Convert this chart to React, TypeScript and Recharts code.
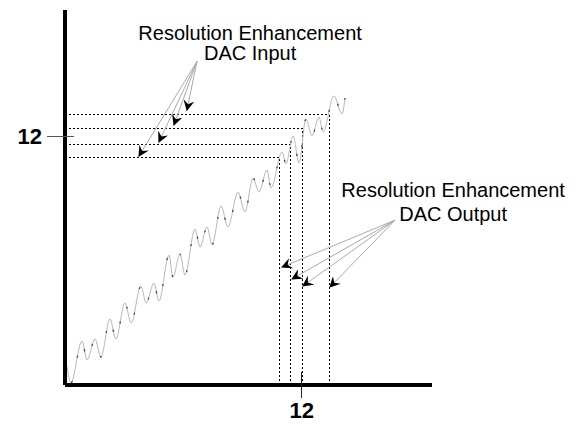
import React from "react";
import { LineChart, Line, XAxis, YAxis, ReferenceLine, ReferenceDot } from "recharts";

// wave turning points (code units: x = input code, y = output level)
const waveX = [0.1, 0.3, 0.86, 1.12, 1.52, 1.82, 2.28, 2.58, 3.04, 3.35, 3.85, 4.11, 4.51, 4.76, 5.27, 5.47, 5.83, 6.08, 6.59, 6.84, 7.2, 7.45, 7.91, 8.26, 8.77, 9.12, 9.53, 9.83, 10.24, 10.44, 11.0, 11.2, 11.56, 11.86, 12.21, 12.52, 12.87, 13.08, 13.63, 14.04, 14.19];
const waveY = [0.92, 0.1, 2.12, 1.21, 2.22, 1.35, 3.19, 2.22, 3.96, 2.99, 4.78, 3.96, 4.92, 4.05, 6.27, 5.21, 6.32, 5.31, 7.53, 6.66, 7.63, 6.76, 8.64, 7.63, 9.31, 8.35, 9.99, 9.31, 10.38, 9.51, 11.25, 10.67, 12.02, 10.71, 12.84, 12.02, 12.93, 12.21, 13.95, 13.08, 13.85];

// enhancement steps: input level (y) and output code (x)
const inputLevels = [10.96, 11.63, 12.36, 13.08];
const outputCodes = [10.85, 11.45, 12.06, 13.38];

// leader arrows
const inputOrigin = { x: 6.69, y: 15.62 };
const inputTips = [
  { x: 6.18, y: 13.27 },
  { x: 5.52, y: 12.55 },
  { x: 4.76, y: 11.73 },
  { x: 3.75, y: 11.05 },
];
const outputOrigin = { x: 16.73, y: 7.96 };
const outputTips = [
  { x: 11.0, y: 5.69 },
  { x: 11.51, y: 5.12 },
  { x: 12.06, y: 4.78 },
  { x: 13.43, y: 4.73 },
];

const captionText = ["Resolution Enhancement", "DAC Input", "Resolution Enhancement", "DAC Output"];
const captionAt = [
  { x: 9.38, y: 16.65 },
  { x: 9.38, y: 15.69 },
  { x: 19.67, y: 9.07 },
  { x: 19.67, y: 7.92 },
];

const xTicks = [12];
const yTicks = [12];

const wave = waveX.map((x, i) => ({ x, y: waveY[i] }));
const FONT = '"Liberation Sans", Arial, Helvetica, sans-serif';

function YTick(props: any) {
  const { x, y, payload } = props;
  return (
    <g>
      <line x1={x - 18} x2={x + 9} y1={y} y2={y} stroke="#555" strokeWidth={1} shapeRendering="crispEdges" />
      <text x={x - 23} y={y} dy="0.36em" textAnchor="end" fontSize={22} fontWeight="bold" fontFamily={FONT} fill="#000">
        {payload.value}
      </text>
    </g>
  );
}

function XTick(props: any) {
  const { x, y, payload } = props;
  return (
    <g>
      <line x1={x} x2={x} y1={y - 13} y2={y + 13} stroke="#222" strokeWidth={1} shapeRendering="crispEdges" />
      <text x={x} y={y + 33} textAnchor="middle" fontSize={22} fontWeight="bold" fontFamily={FONT} fill="#000">
        {payload.value}
      </text>
    </g>
  );
}

export default function App() {
  return (
    <div style={{ position: "absolute", left: 0, top: 0, background: "#fff" }}>
      <LineChart width={582} height={424} margin={{ top: 10, right: 150, left: 0, bottom: 0 }}>
        <defs>
          <marker id="barb" viewBox="0 0 10 10" refX="9" refY="5" markerWidth="11" markerHeight="11" markerUnits="userSpaceOnUse" orient="auto">
            <path d="M0,0 L10,5 L0,10 L3.5,5 z" fill="#000" />
          </marker>
        </defs>
        <XAxis
          type="number"
          dataKey="x"
          domain={[0, 18.6]}
          allowDataOverflow
          ticks={xTicks}
          interval={0}
          height={39}
          tickSize={0}
          tickMargin={0}
          tickLine={false}
          axisLine={{ stroke: "#000", strokeWidth: 4 }}
          tick={<XTick />}
        />
        <YAxis
          type="number"
          domain={[0, 18.1]}
          allowDataOverflow
          ticks={yTicks}
          interval={0}
          width={65}
          tickSize={0}
          tickMargin={0}
          tickLine={false}
          axisLine={{ stroke: "#000", strokeWidth: 4 }}
          tick={<YTick />}
        />

        {inputLevels.map((lv, i) => (
          <ReferenceLine
            key={"h" + i}
            segment={[{ x: 0, y: lv }, { x: outputCodes[i], y: lv }]}
            stroke="#000"
            strokeWidth={1}
            strokeDasharray="2 2"
            shapeRendering="crispEdges"
          />
        ))}
        {outputCodes.map((c, i) => (
          <ReferenceLine
            key={"v" + i}
            segment={[{ x: c, y: 0 }, { x: c, y: inputLevels[i] }]}
            stroke="#000"
            strokeWidth={1}
            strokeDasharray="2 2"
            shapeRendering="crispEdges"
          />
        ))}

        <Line data={wave} dataKey="y" type="monotone" stroke="#b8b8b8" strokeWidth={1} dot={false} activeDot={false} isAnimationActive={false} />
        <Line data={wave} dataKey="y" type="monotone" stroke="#444" strokeWidth={1.3} strokeDasharray="2 24" strokeDashoffset={8} dot={false} activeDot={false} isAnimationActive={false} />

        {inputTips.map((t, i) => (
          <Line
            key={"ai" + i}
            data={[inputOrigin, t]}
            dataKey="y"
            type="linear"
            stroke="#aaa"
            strokeWidth={1}
            markerEnd="url(#barb)"
            dot={false}
            activeDot={false}
            isAnimationActive={false}
          />
        ))}
        {outputTips.map((t, i) => (
          <Line
            key={"ao" + i}
            data={[outputOrigin, t]}
            dataKey="y"
            type="linear"
            stroke="#aaa"
            strokeWidth={1}
            markerEnd="url(#barb)"
            dot={false}
            activeDot={false}
            isAnimationActive={false}
          />
        ))}

        {captionText.map((txt, i) => (
          <ReferenceDot
            key={"c" + i}
            x={captionAt[i].x}
            y={captionAt[i].y}
            r={0}
            ifOverflow="visible"
            shape={(p: any) => (
              <text x={p.cx} y={p.cy} textAnchor="middle" fontSize={20} fontFamily={FONT} fill="#000">
                {txt}
              </text>
            )}
          />
        ))}
      </LineChart>
    </div>
  );
}
